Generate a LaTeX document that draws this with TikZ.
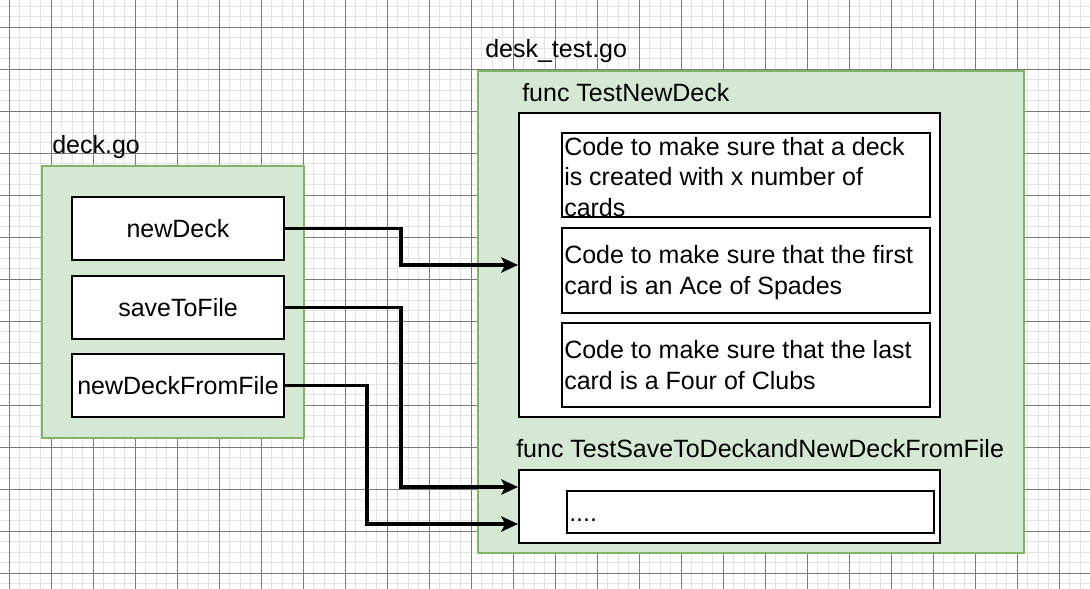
\documentclass[tikz,border=0pt]{standalone}
\usepackage{fontspec}
\setmainfont{Liberation Sans}
\usetikzlibrary{arrows.meta,fit}
\definecolor{gfill}{HTML}{D5E8D4}
\definecolor{gline}{HTML}{82B366}
\definecolor{minorgrid}{HTML}{E3E3E3}
\definecolor{majorgrid}{HTML}{7A7A7A}
\newcommand{\ftext}{\fontsize{18.75pt}{22.9pt}\selectfont}
\begin{document}
\begin{tikzpicture}[x=0.75pt,y=-0.75pt,
  container/.style={draw=gline, fill=gfill, line width=1.3pt, inner sep=0pt},
  box/.style={draw=black, fill=white, line width=1.6pt, inner sep=0pt},
  boxtext/.style={inner sep=0pt, font=\ftext},
  lbl/.style={anchor=base west, inner sep=0pt, font=\ftext},
  codetext/.style={anchor=north west, inner sep=0pt, align=left, font=\ftext},
  conn/.style={draw, line width=2.3pt, -{Stealth[length=12.5pt,width=11.5pt,inset=3pt]}},
  minorline/.style={draw=minorgrid, line width=0.75pt},
  majorline/.style={draw=majorgrid, line width=0.75pt}]
\useasboundingbox (0,0) rectangle (1090,589);
\fill[white] (0,0) rectangle (1090,589);
\begin{scope}
\clip (0,0) rectangle (1090,589);
\foreach \i in {0,...,104} { \draw[minorline] ({-1.5+10.5*\i},0) -- ({-1.5+10.5*\i},589); }
\foreach \i in {0,...,55} { \draw[minorline] (0,{6+10.5*\i}) -- (1090,{6+10.5*\i}); }
\foreach \i in {0,...,25} { \draw[majorline] ({9+42*\i},0) -- ({9+42*\i},589); }
\foreach \i in {0,...,13} { \draw[majorline] (0,{27+42*\i}) -- (1090,{27+42*\i}); }
\end{scope}

% deck.go container
\node[container, fit={(42,166) (304,438)}] (deck) {};
\node[lbl] (decklbl) at (52,153) {deck.go};
\node[box, fit={(72,197) (284,260)}] (nd) {};
\node[boxtext] (ndt) at (nd.center) {newDeck};
\node[box, fit={(72,276) (284,339)}] (sf) {};
\node[boxtext] (sft) at (sf.center) {saveToFile};
\node[box, fit={(72,354) (284,417)}] (nf) {};
\node[boxtext] (nft) at (nf.center) {newDeckFromFile};

% desk_test.go container
\node[container, fit={(478,71) (1024,553)}] (desk) {};
\node[lbl] (desklbl) at (485,57) {desk\_test.go};
\node[lbl] (tndlbl) at (522,101) {func TestNewDeck};
\node[box, fit={(519,113) (940,417)}] (tnd) {};
\node[box, fit={(562,133) (930,217)}] (c1) {};
\node[codetext] (c1t) at (564,133.5) {\strut Code to make sure that a deck\\is created with x number of\\cards};
\node[box, fit={(562,228) (930,313)}] (c2) {};
\node[codetext] (c2t) at (564,242) {\strut Code to make sure that the first\\card is an Ace of Spades};
\node[box, fit={(562,323) (930,407)}] (c3) {};
\node[codetext] (c3t) at (564,337) {\strut Code to make sure that the last\\card is a Four of Clubs};

\node[lbl] (tsdlbl) at (516,457) {func TestSaveToDeckandNewDeckFromFile};
\node[box, fit={(519,470) (940,543)}] (tsd) {};
\node[box, fit={(567,491) (934,533)}] (dots) {};
\node[lbl] (dotst) at (569,521) {....};

% connectors
\draw[conn] (nd.east) -| (401,265) -- (tnd.west |- 0,265);
\draw[conn] (sf.east) -| (401,487) -- (tsd.west |- 0,487);
\draw[conn] (nf.east) -| (367,524) -- (tsd.west |- 0,524);
\end{tikzpicture}
\end{document}
